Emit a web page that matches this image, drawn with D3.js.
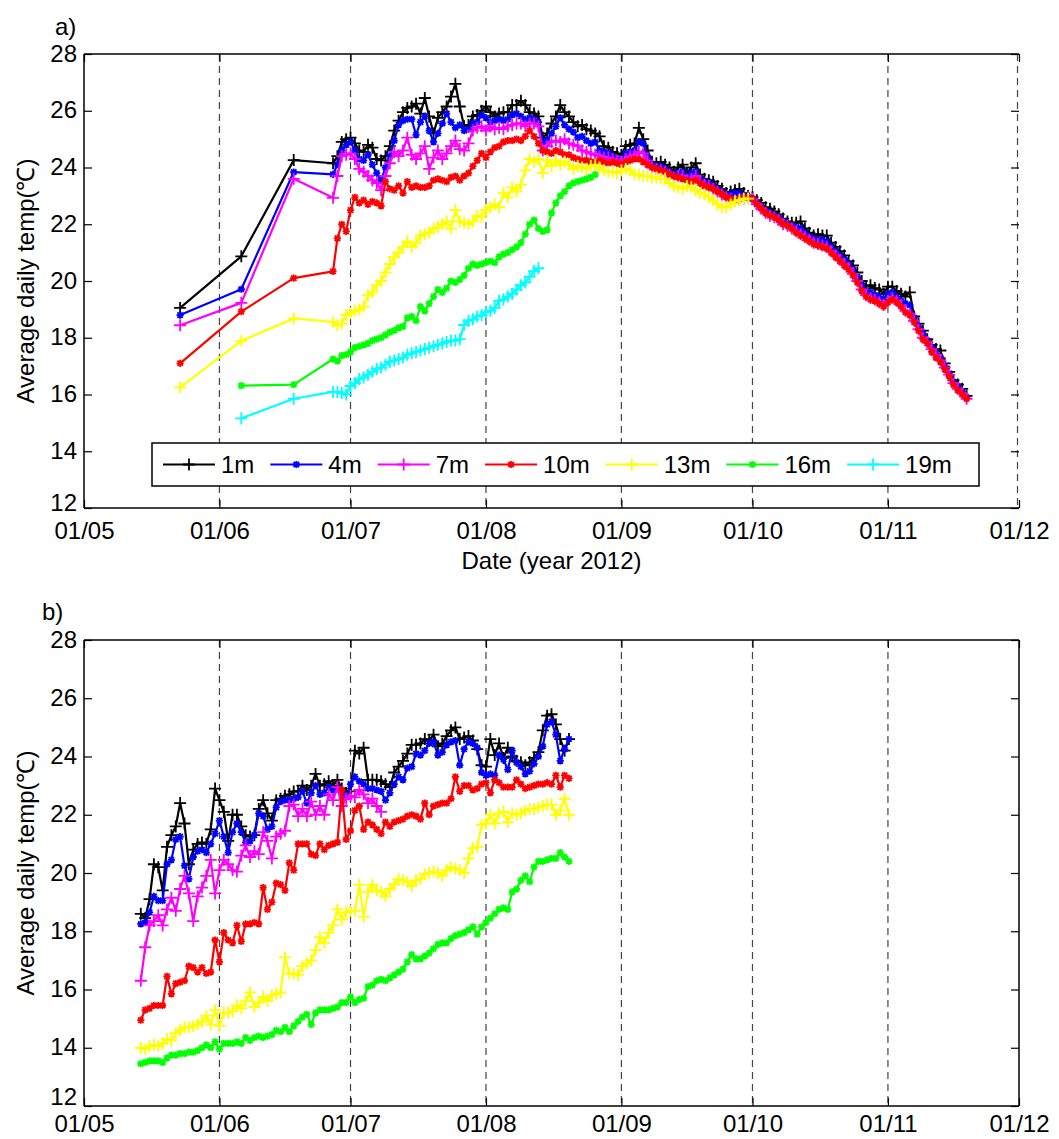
<!DOCTYPE html>
<html><head><meta charset="utf-8">
<script src="https://cdn.jsdelivr.net/npm/d3@7"></script>
<style>body{margin:0;background:#fff} text{font-family:"Liberation Sans",Arial,sans-serif;fill:#000}</style>
</head><body><svg id="c" width="1059" height="1139"></svg>
<script>
// ---------------- DATA ----------------
const depths = ["1m","4m","7m","10m","13m","16m","19m"];
const seriesColors = ["#000000","#0000ff","#ff00ff","#ff0000","#ffff00","#00ff00","#00ffff"];
const seriesMarkers = ["plus","star","plus","star","plus","star","plus"];
const yTicks = [12,14,16,18,20,22,24,26,28];
const monthLabels = ["01/05","01/06","01/07","01/08","01/09","01/10","01/11","01/12"];

// Panel a: three sparse early readings, then daily readings
const aSparseDates = ["2012-05-23","2012-06-06","2012-06-18"];
const aSparse1m  = [19.05,20.87,24.26];
const aSparse4m  = [18.8,19.71,23.84];
const aSparse7m  = [18.44,19.23,23.6];
const aSparse10m = [17.1,18.92,20.1];
const aSparse13m = [16.25,17.89,18.68];
const aSparse16m = [null,16.31,16.35];
const aSparse19m = [null,15.16,15.85];
const aDailyStart = "2012-06-27";
const aDaily1m = [24.15,24.4,24.9,25.0,25.05,24.85,24.6,24.55,24.8,24.7,24.3,24.25,24.4,24.75,25.3,25.65,25.95,26.1,26.15,26.25,25.9,26.45,25.8,25.2,25.75,25.95,26.15,26.5,26.95,26.15,25.45,25.5,25.8,25.85,26.0,26.15,25.95,25.8,25.9,25.95,25.95,26.2,26.2,26.35,26.2,25.95,25.9,25.8,25.05,25.2,25.55,25.8,26.2,25.95,25.8,25.6,25.45,25.5,25.35,25.3,25.2,25.1,24.75,24.7,24.55,24.5,24.45,24.75,24.8,24.85,25.4,25.0,24.6,24.2,24.15,24.2,24.1,24.0,23.85,24.0,24.1,23.8,24.0,24.15,23.75,23.6,23.55,23.5,23.35,23.25,23.1,23.15,23.2,23.25,23.1,23.0,22.95,22.85,22.75,22.6,22.55,22.45,22.35,22.2,22.1,22.05,22.05,22.1,21.85,21.7,21.6,21.65,21.6,21.6,21.35,21.2,21.05,20.9,20.7,20.55,20.3,20.0,19.8,19.85,19.75,19.7,19.55,19.8,19.8,19.65,19.55,19.45,19.6,18.75,18.5,18.25,17.95,17.75,17.6,17.55,17.1,16.8,16.5,16.35,16.2,15.95];
const aDaily4m = [23.76,24.1,24.6,24.8,24.9,24.6,24.3,24.25,24.45,24.1,23.8,23.55,24.0,24.4,24.95,25.5,25.65,25.7,25.7,25.15,25.6,25.8,25.3,24.9,25.2,25.55,25.9,25.6,25.4,25.5,25.3,25.35,25.55,25.6,25.85,25.75,25.6,25.65,25.7,25.65,25.7,25.85,25.9,25.8,25.7,25.75,25.7,25.6,24.9,24.95,25.2,25.45,25.75,25.5,25.35,25.25,25.05,25.1,24.95,24.85,24.9,24.6,24.55,24.5,24.4,24.3,24.25,24.5,24.55,24.6,24.9,24.85,24.35,24.1,24.0,24.05,23.95,23.85,23.75,23.8,23.85,23.65,23.8,23.85,23.6,23.5,23.45,23.35,23.2,23.15,23.0,23.05,23.1,23.1,23.0,22.95,22.9,22.75,22.6,22.45,22.4,22.3,22.25,22.1,22.0,21.95,21.9,21.85,21.7,21.55,21.5,21.45,21.45,21.4,21.2,21.05,20.9,20.75,20.6,20.4,20.15,19.85,19.65,19.6,19.5,19.45,19.35,19.55,19.6,19.45,19.3,19.2,19.15,18.7,18.4,18.15,17.9,17.65,17.45,17.3,17.0,16.75,16.45,16.3,16.1,15.9];
const aDaily7m = [22.93,23.7,24.4,24.45,24.5,24.3,23.95,23.85,23.7,23.55,23.45,23.2,23.7,24.15,24.55,24.4,24.6,25.05,24.45,24.3,24.5,24.75,23.95,24.35,24.6,24.3,24.5,24.75,24.95,24.65,24.6,24.85,25.3,25.4,25.45,25.3,25.45,25.35,25.4,25.35,25.45,25.5,25.55,25.55,25.45,25.55,25.55,25.45,24.6,24.75,24.9,24.95,24.9,25.0,24.85,24.8,24.75,24.6,24.55,24.5,24.45,24.4,24.35,24.35,24.3,24.25,24.2,24.3,24.4,24.45,24.55,24.5,24.25,24.0,23.95,23.9,23.85,23.75,23.65,23.7,23.7,23.55,23.6,23.7,23.5,23.4,23.35,23.25,23.15,23.05,22.95,22.9,22.85,22.9,22.9,22.95,22.9,22.7,22.55,22.4,22.3,22.25,22.15,22.0,21.95,21.85,21.75,21.65,21.55,21.45,21.35,21.3,21.25,21.2,21.05,20.9,20.75,20.6,20.45,20.25,20.0,19.7,19.5,19.4,19.35,19.25,19.15,19.3,19.4,19.3,19.15,18.95,18.85,18.6,18.3,18.0,17.85,17.6,17.4,17.2,16.95,16.7,16.4,16.2,16.05,15.85];
const aDaily10m = [20.34,21.5,22.0,21.75,22.5,22.95,22.75,22.85,22.7,22.8,22.75,22.65,23.5,23.25,23.2,23.35,23.1,23.5,23.3,23.35,23.3,23.3,23.35,23.55,23.6,23.55,23.5,23.65,23.7,23.55,23.7,23.8,24.05,24.25,24.5,24.35,24.55,24.7,24.75,24.9,24.95,24.95,25.0,24.95,25.1,25.3,25.1,24.85,24.6,24.55,24.5,24.6,24.55,24.45,24.45,24.35,24.3,24.25,24.25,24.2,24.2,24.25,24.2,24.15,24.2,24.15,24.1,24.2,24.25,24.3,24.3,24.2,24.1,24.0,23.95,23.9,23.85,23.75,23.7,23.65,23.6,23.55,23.5,23.55,23.45,23.35,23.3,23.25,23.15,23.05,22.95,22.9,22.85,22.9,22.95,22.95,22.9,22.7,22.55,22.4,22.3,22.25,22.15,22.0,21.95,21.85,21.7,21.6,21.5,21.4,21.3,21.25,21.2,21.15,21.0,20.85,20.7,20.55,20.4,20.2,19.95,19.65,19.45,19.35,19.3,19.2,19.1,19.25,19.35,19.25,19.1,18.9,18.8,18.55,18.25,17.95,17.8,17.5,17.3,17.15,16.9,16.65,16.35,16.15,16.0,15.85];
const aDaily13m = [18.56,18.44,18.5,18.8,18.86,18.95,19.0,19.1,19.5,19.6,19.85,20.0,20.3,20.6,20.85,21.0,21.2,21.4,21.2,21.35,21.6,21.65,21.7,21.85,21.9,22.0,22.1,21.85,22.5,22.1,22.05,22.0,22.1,22.3,22.25,22.5,22.6,22.7,22.6,23.1,22.95,23.3,23.15,23.4,23.9,24.3,24.2,24.3,23.8,24.25,24.05,24.25,24.1,24.2,24.1,23.95,24.05,24.0,23.95,24.05,24.1,24.0,23.9,23.85,23.85,23.8,23.9,23.95,23.9,23.75,23.75,23.7,23.7,23.65,23.65,23.6,23.6,23.45,23.35,23.3,23.25,23.35,23.3,23.2,23.1,23.05,22.95,22.85,22.7,22.6,22.6,22.7,22.8,22.85,22.9,22.9];
const aDaily16m = [17.25,17.18,17.37,17.4,17.5,17.65,17.7,17.75,17.8,17.9,17.95,18.0,18.1,18.2,18.25,18.35,18.4,18.7,18.75,18.6,19.1,18.95,19.2,19.45,19.7,19.6,19.75,20.0,19.95,20.05,20.2,20.45,20.6,20.55,20.6,20.65,20.7,20.65,20.85,20.95,21.0,21.1,21.2,21.35,21.65,22.0,22.15,21.85,21.75,21.8,22.4,22.75,23.0,23.15,23.35,23.45,23.5,23.55,23.6,23.65,23.75];
const aDaily19m = [16.09,16.09,16.05,16.0,16.3,16.4,16.55,16.6,16.7,16.8,16.9,16.95,17.05,17.15,17.2,17.25,17.3,17.4,17.45,17.5,17.55,17.6,17.65,17.7,17.75,17.8,17.85,17.9,17.9,17.95,18.45,18.6,18.65,18.75,18.8,18.9,18.95,19.05,19.3,19.35,19.45,19.55,19.7,19.85,19.95,20.15,20.35,20.45];

// Panel b: daily readings
const bDailyStart = "2012-05-14";
const bDaily1m = [18.6,18.45,19.1,20.3,20.2,19.4,20.9,21.3,21.6,22.4,21.7,20.3,20.8,21.0,21.05,21.0,21.5,22.9,22.5,22.1,21.1,22.0,22.0,21.6,21.3,21.25,21.3,22.2,22.5,22.05,21.8,22.5,22.55,22.65,22.7,22.8,22.8,23.0,22.85,23.0,23.4,23.0,23.05,23.15,23.0,23.2,22.9,22.75,22.8,24.2,24.1,24.3,23.2,23.2,23.2,23.15,23.05,22.95,23.45,23.65,23.85,24.1,24.4,24.4,24.45,24.6,24.55,24.75,24.35,24.45,24.7,24.9,25.0,24.6,24.65,24.7,24.55,24.25,23.7,23.65,24.6,24.05,24.45,23.95,24.3,24.0,23.85,23.8,23.7,23.8,23.95,24.15,24.9,25.4,25.45,25.1,24.6,24.2,24.6];
const bDaily4m = [18.25,18.3,18.65,19.2,19.05,19.05,20.3,20.45,21.15,21.25,20.25,19.8,20.55,20.75,20.8,20.7,21.0,21.35,21.8,21.25,20.7,21.4,21.7,21.4,21.05,21.1,21.3,22.05,21.95,21.5,21.6,22.25,22.45,22.5,22.5,22.55,22.6,22.8,22.4,22.75,23.0,22.7,22.75,22.95,22.85,22.9,22.75,22.6,23.05,23.3,23.15,23.05,22.9,22.9,22.85,22.8,22.5,22.75,23.05,23.3,23.2,23.6,23.65,24.1,24.05,24.2,24.45,24.5,24.05,24.15,24.4,24.5,24.55,23.7,24.25,24.5,24.45,24.3,23.45,23.35,23.4,23.35,24.05,23.9,23.55,24.2,23.8,23.65,23.4,23.5,23.75,24.0,24.35,25.1,25.2,24.75,23.85,24.25,24.6];
const bDaily7m = [16.3,17.45,18.2,18.35,18.55,18.2,18.75,19.15,18.7,19.45,19.9,19.3,18.35,19.2,19.5,19.9,20.45,19.3,20.1,20.45,20.3,20.1,20.05,20.6,20.95,20.55,20.75,20.65,21.4,21.1,20.5,21.25,21.35,21.45,22.3,22.35,21.95,22.2,21.95,22.45,22.0,22.3,22.0,22.7,22.5,22.95,22.3,22.55,22.65,22.6,22.85,22.7,22.4,22.55,22.3,22.1];
const bDaily10m = [14.95,15.3,15.35,15.45,15.45,15.45,16.45,15.85,16.2,16.25,16.3,16.8,16.75,16.6,16.75,16.55,16.6,17.7,16.95,17.95,17.7,17.6,18.2,17.65,18.25,18.25,18.3,18.25,19.5,18.75,19.0,19.65,19.6,19.4,20.35,20.1,21.0,21.0,21.0,20.65,20.6,21.0,20.8,20.95,21.0,21.05,22.85,21.15,21.45,22.15,22.3,21.5,21.75,21.65,21.5,21.35,21.75,21.6,21.75,21.8,21.85,21.95,22.0,21.95,21.85,22.4,22.0,22.3,22.35,22.4,22.4,22.55,23.3,22.8,23.0,23.0,22.85,22.9,23.05,23.1,22.75,23.2,23.1,22.95,22.95,22.95,23.2,23.05,22.9,22.95,23.0,23.05,23.05,23.1,23.05,23.35,22.95,23.35,23.25];
const bDaily13m = [14.0,13.95,14.05,14.1,14.05,14.15,14.3,14.25,14.5,14.6,14.7,14.7,14.75,14.8,14.9,15.1,14.8,15.3,14.75,15.2,15.2,15.25,15.45,15.35,15.6,15.9,15.4,15.55,15.75,15.6,15.8,15.85,15.9,17.1,16.55,16.55,16.5,16.8,16.9,17.0,17.35,17.8,17.6,17.95,18.2,18.75,18.4,18.65,18.7,18.7,19.6,18.5,19.35,19.6,19.4,19.35,19.2,19.45,19.6,19.8,19.75,19.7,19.55,19.75,19.8,19.95,20.0,20.05,20.0,19.9,20.1,20.2,20.15,20.1,20.0,20.5,20.85,20.9,21.65,21.7,22.0,21.7,22.05,22.1,21.75,22.05,22.0,22.05,22.15,22.2,22.2,22.25,22.3,22.35,22.35,22.0,22.15,22.55,22.0];
const bDaily16m = [13.45,13.5,13.55,13.55,13.55,13.5,13.65,13.75,13.75,13.8,13.8,13.85,13.85,13.9,14.0,14.1,14.0,14.2,13.95,14.15,14.15,14.15,14.2,14.15,14.35,14.25,14.35,14.4,14.35,14.4,14.45,14.6,14.55,14.7,14.55,14.75,14.9,15.05,15.15,14.8,15.2,15.3,15.3,15.3,15.35,15.4,15.55,15.55,15.75,15.55,15.65,15.7,16.1,16.15,16.3,16.35,16.3,16.4,16.5,16.6,16.7,16.95,17.2,17.05,17.05,17.15,17.25,17.4,17.55,17.6,17.6,17.75,17.85,17.9,17.95,18.05,18.15,17.9,18.15,18.3,18.45,18.6,18.75,18.8,18.75,19.35,19.45,19.75,19.9,19.7,20.2,20.4,20.4,20.45,20.5,20.5,20.7,20.55,20.4];

// ---------------- BUILD ----------------
const parse = d3.utcParse("%Y-%m-%d");
function build(sparseDates, sparseVals, dailyStart, dailyVals) {
  const out = [];
  (sparseDates || []).forEach((s, i) => { if (sparseVals[i] != null) out.push({date: parse(s), v: sparseVals[i]}); });
  const st = parse(dailyStart);
  dailyVals.forEach((v, i) => out.push({date: d3.utcDay.offset(st, i), v}));
  return out;
}
const panelA = [
  build(aSparseDates, aSparse1m, aDailyStart, aDaily1m),
  build(aSparseDates, aSparse4m, aDailyStart, aDaily4m),
  build(aSparseDates, aSparse7m, aDailyStart, aDaily7m),
  build(aSparseDates, aSparse10m, aDailyStart, aDaily10m),
  build(aSparseDates, aSparse13m, aDailyStart, aDaily13m),
  build(aSparseDates, aSparse16m, aDailyStart, aDaily16m),
  build(aSparseDates, aSparse19m, aDailyStart, aDaily19m)
];
const panelB = [
  build(null, null, bDailyStart, bDaily1m),
  build(null, null, bDailyStart, bDaily4m),
  build(null, null, bDailyStart, bDaily7m),
  build(null, null, bDailyStart, bDaily10m),
  build(null, null, bDailyStart, bDaily13m),
  build(null, null, bDailyStart, bDaily16m)
];

const svg = d3.select("#c");
const L = 84, R = 1019;
const FS = 24;
const x = d3.scaleUtc().domain([parse("2012-05-01"), parse("2012-12-01")]).range([L, R]);
const monthTicks = d3.utcMonth.range(parse("2012-05-01"), parse("2012-12-02"));

function markerPath(type, s) {
  if (type === "plus") return `M${-s},0H${s}M0,${-s}V${s}`;
  const t = s * 0.75;
  return `M${-s},0H${s}M0,${-s}V${s}M${-t},${-t}L${t},${t}M${-t},${t}L${t},${-t}`;
}

function drawPanel(top, bottom, data, opts) {
  const y = d3.scaleLinear().domain([12, 28]).range([bottom, top]);
  const g = svg.append("g");
  // dashed month grid
  const lastM = monthTicks[monthTicks.length - 1];
  const gridMonths = monthTicks.slice(1, opts.gridToEnd ? monthTicks.length : monthTicks.length - 1);
  g.selectAll("line.grid").data(gridMonths).enter().append("line")
    .attr("x1", d => x(d) - (+d === +lastM ? 1.5 : 0))
    .attr("x2", d => x(d) - (+d === +lastM ? 1.5 : 0))
    .attr("y1", top).attr("y2", bottom)
    .attr("stroke", "#444").attr("stroke-width", 1.2).attr("stroke-dasharray", "7,5");
  // axes (inward ticks, mirrored)
  const ax = (gen) => gen.tickSizeOuter(0);
  const left = g.append("g").attr("transform", `translate(${L},0)`)
    .call(ax(d3.axisLeft(y).tickValues(yTicks).tickSizeInner(-8).tickPadding(7).tickFormat(d3.format("d"))));
  const right = g.append("g").attr("transform", `translate(${R},0)`)
    .call(ax(d3.axisRight(y).tickValues(yTicks).tickSizeInner(-8).tickFormat("")));
  const bot = g.append("g").attr("transform", `translate(0,${bottom})`)
    .call(ax(d3.axisBottom(x).tickValues(monthTicks).tickSizeInner(-8).tickPadding(opts.xPad).tickFormat((d,i) => monthLabels[i])));
  const topAx = g.append("g").attr("transform", `translate(0,${top})`)
    .call(ax(d3.axisTop(x).tickValues(monthTicks).tickSizeInner(-8).tickFormat("")));
  [left, right, bot, topAx].forEach(a => {
    a.select(".domain").remove();
    a.selectAll(".tick line").attr("stroke", "#000").attr("stroke-width", 1.2);
    a.selectAll("text").attr("font-size", FS).attr("fill", "#000").style("font-family", '"Liberation Sans",Arial,sans-serif');
  });
  left.selectAll(".tick text").attr("dy", d => d === 12 ? opts.dy12 : "0.3em");
  bot.selectAll(".tick text").attr("dy", "0.62em");
  // box
  g.append("line").attr("x1", L).attr("x2", R).attr("y1", top).attr("y2", top).attr("stroke", "#000").attr("stroke-width", 1.5);
  g.append("line").attr("x1", L).attr("x2", R).attr("y1", bottom).attr("y2", bottom).attr("stroke", "#000").attr("stroke-width", 1.5);
  g.append("line").attr("x1", L).attr("x2", L).attr("y1", top).attr("y2", bottom).attr("stroke", "#000").attr("stroke-width", 1.5);
  if (!opts.gridToEnd) g.append("line").attr("x1", R).attr("x2", R).attr("y1", top).attr("y2", bottom).attr("stroke", "#000").attr("stroke-width", 1.5);

  // series
  const line = d3.line().x(d => x(d.date)).y(d => y(d.v));
  data.forEach((ser, i) => {
    const sg = g.append("g");
    sg.append("path").datum(ser).attr("d", line).attr("fill", "none")
      .attr("stroke", seriesColors[i]).attr("stroke-width", 2.2).attr("stroke-linejoin", "round");
    const mt = seriesMarkers[i];
    sg.selectAll("path.m").data(ser).enter().append("path").attr("class", "m")
      .attr("transform", d => `translate(${x(d.date)},${y(d.v)})`)
      .attr("d", markerPath(mt, mt === "plus" ? 6 : 3.6))
      .attr("stroke", seriesColors[i]).attr("stroke-width", 1.8).attr("fill", "none");
  });

  // y label
  svg.append("text").attr("transform", `translate(${opts.ylabelX},${(top + bottom) / 2}) rotate(-90)`)
    .attr("text-anchor", "middle").attr("dominant-baseline", "central").attr("font-size", FS)
    .text("Average daily temp(℃)");
  svg.append("text").attr("x", opts.tagX).attr("y", opts.tagY).attr("font-size", FS).text(opts.tag);
  return y;
}

drawPanel(54, 508, panelA, {gridToEnd: true, ylabelX: 25, tag: "a)", tagX: 55, tagY: 35, xPad: 16, dy12: "0.12em"});
drawPanel(640, 1106, panelB, {gridToEnd: false, ylabelX: 25, tag: "b)", tagX: 42, tagY: 620, xPad: 11, dy12: "-0.05em"});

svg.append("text").attr("x", (L + R) / 2).attr("y", 569).attr("text-anchor", "middle")
  .attr("font-size", FS).text("Date (year 2012)");

// legend
const lg = svg.append("g");
lg.append("rect").attr("x", 152).attr("y", 443).attr("width", 827).attr("height", 43)
  .attr("fill", "#fff").attr("stroke", "#000").attr("stroke-width", 1.5);
let cx = 163;
const ly = 464.5;
depths.forEach((name, i) => {
  lg.append("line").attr("x1", cx).attr("x2", cx + 52).attr("y1", ly).attr("y2", ly)
    .attr("stroke", seriesColors[i]).attr("stroke-width", 2.2);
  lg.append("path").attr("transform", `translate(${cx + 26},${ly})`)
    .attr("d", markerPath(seriesMarkers[i], seriesMarkers[i] === "plus" ? 6 : 3.6))
    .attr("stroke", seriesColors[i]).attr("stroke-width", 1.8).attr("fill", "none");
  const t = lg.append("text").attr("x", cx + 58).attr("y", ly).attr("dominant-baseline", "central")
    .attr("font-size", FS).text(name);
  cx = cx + 58 + t.node().getComputedTextLength() + 16;
});
</script></body></html>
